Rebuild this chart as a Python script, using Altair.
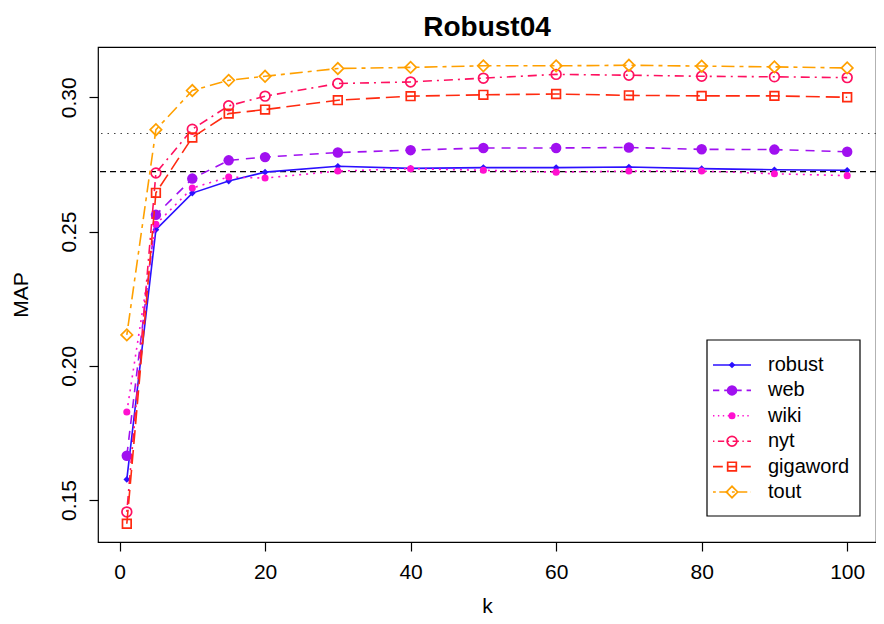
import altair as alt
import pandas as pd

# ---- data ----
k = [1, 5, 10, 15, 20, 30, 40, 50, 60, 70, 80, 90, 100]
series = ["robust", "web", "wiki", "nyt", "gigaword", "tout"]
robust = [0.1577, 0.2507, 0.2643, 0.2688, 0.2721, 0.2743, 0.2735, 0.2738, 0.2738, 0.2740, 0.2734, 0.2730, 0.2728]
web = [0.1665, 0.2562, 0.2697, 0.2765, 0.2777, 0.2794, 0.2803, 0.2811, 0.2811, 0.2813, 0.2806, 0.2805, 0.2797]
wiki = [0.1828, 0.2527, 0.2662, 0.2703, 0.2699, 0.2725, 0.2734, 0.2728, 0.2721, 0.2725, 0.2725, 0.2715, 0.2708]
nyt = [0.1456, 0.2718, 0.2881, 0.2968, 0.3004, 0.3051, 0.3057, 0.3071, 0.3085, 0.3082, 0.3078, 0.3076, 0.3073]
gigaword = [0.1412, 0.2644, 0.2850, 0.2939, 0.2954, 0.2989, 0.3004, 0.3009, 0.3012, 0.3007, 0.3005, 0.3005, 0.3000]
tout = [0.2115, 0.2879, 0.3025, 0.3063, 0.3078, 0.3107, 0.3111, 0.3117, 0.3117, 0.3119, 0.3116, 0.3113, 0.3109]
ref_dashed = 0.2723
ref_dotted = 0.2865
x_ticks = [0, 20, 40, 60, 80, 100]
y_ticks = [0.15, 0.20, 0.25, 0.30]

# ---- styles ----
colors = {"robust": "#2B10FF", "web": "#A010F0", "wiki": "#FF10D0",
          "nyt": "#FF1060", "gigaword": "#FF2A10", "tout": "#FFA000"}
dashes = {"robust": None, "web": [9, 7], "wiki": [2, 5], "nyt": [2, 5, 9, 5],
          "gigaword": [14, 6], "tout": [4, 5, 13, 5]}
shapes = {"robust": "diamond", "web": "circle", "wiki": "circle",
          "nyt": "circle", "gigaword": "square", "tout": "diamond"}
sizes = {"robust": 45, "web": 110, "wiki": 50, "nyt": 95, "gigaword": 75, "tout": 130}
filled = {"robust": True, "web": True, "wiki": True, "nyt": False, "gigaword": False, "tout": False}

FONT = "Liberation Sans"
W, H = 778, 495

vals = {"robust": robust, "web": web, "wiki": wiki, "nyt": nyt, "gigaword": gigaword, "tout": tout}
rows = []
for s in series:
    for kk, v in zip(k, vals[s]):
        rows.append({"series": s, "k": kk, "MAP": v})
df = pd.DataFrame(rows)

xs = alt.Scale(domain=[-2.96, 103.96], nice=False, zero=False)
ys = alt.Scale(domain=[0.1344, 0.3187], nice=False, zero=False)
xaxis = alt.Axis(values=x_ticks, title="k", titleX=W / 2, titleY=64,
                 titleBaseline="middle", titleAlign="center")
yaxis = alt.Axis(values=y_ticks, format=".2f", title="MAP", labelAngle=-90,
                 labelAlign="center", labelBaseline="bottom",
                 titleX=-77, titleY=H / 2, titleAngle=-90,
                 titleAlign="center", titleBaseline="middle")

X = alt.X("k:Q", scale=xs, axis=xaxis, title="k")
Y = alt.Y("MAP:Q", scale=ys, axis=yaxis, title="MAP")

main_layers = []
refdf = pd.DataFrame({"MAP": [ref_dashed, ref_dotted], "kind": ["dashed", "dotted"]})
main_layers.append(
    alt.Chart(refdf).transform_filter(alt.datum.kind == "dashed")
    .mark_rule(color="black", strokeWidth=1.2, strokeDash=[6, 4]).encode(y=Y)
)
main_layers.append(
    alt.Chart(refdf).transform_filter(alt.datum.kind == "dotted")
    .mark_rule(color="#444444", strokeWidth=1.2, strokeDash=[1.5, 5]).encode(y=Y)
)

for s in series:
    d = df[df.series == s]
    lk = dict(color=colors[s], strokeWidth=1.6)
    if dashes[s]:
        lk["strokeDash"] = dashes[s]
    main_layers.append(alt.Chart(d).mark_line(**lk).encode(x=X, y=Y))
    pk = dict(shape=shapes[s], size=sizes[s], filled=filled[s], color=colors[s],
              opacity=1, strokeWidth=1.7)
    main_layers.append(alt.Chart(d).mark_point(**pk).encode(x=X, y=Y))

main = alt.layer(*main_layers)

# ---- legend ----
leg_y = alt.Y("series:N", scale=alt.Scale(type="point", domain=series, range=[318, 445], padding=0),
              axis=None)
legdf = pd.DataFrame({"series": series})
leg_layers = [
    alt.Chart(legdf).transform_filter(alt.datum.series == "robust").mark_rect(
        fill="white", stroke="black", strokeWidth=1.2
    ).encode(x=alt.value(609), x2=alt.value(762), y=alt.value(293), y2=alt.value(469))
]
for s in series:
    d = legdf[legdf.series == s]
    rk = dict(color=colors[s], strokeWidth=1.6)
    if dashes[s]:
        rk["strokeDash"] = [max(1, v * 0.7) for v in dashes[s]]
    leg_layers.append(alt.Chart(d).mark_rule(**rk).encode(x=alt.value(615), x2=alt.value(653), y=leg_y))
    leg_layers.append(alt.Chart(d).mark_point(shape=shapes[s], size=sizes[s], filled=filled[s],
                                              color=colors[s], opacity=1, strokeWidth=1.7)
                      .encode(x=alt.value(634), y=leg_y))
    leg_layers.append(alt.Chart(d).mark_text(align="left", baseline="middle", fontSize=20,
                                             font=FONT, color="black")
                      .encode(x=alt.value(670), y=leg_y, text="series:N"))
legend = alt.layer(*leg_layers)

chart = (
    alt.layer(main, legend)
    .resolve_scale(y="independent", x="independent")
    .properties(
        width=W, height=H,
        title=alt.Title("Robust04", font=FONT, fontSize=28, fontWeight="bold",
                        anchor="middle", offset=5, color="black"),
        autosize=alt.AutoSizeParams(type="none"),
        padding={"left": 90, "top": 39, "right": 0, "bottom": 76},
    )
    .configure_view(stroke="black", strokeWidth=1.2)
    .configure_axis(domain=False, grid=False, tickColor="black", tickSize=9, tickWidth=1.2,
                    labelFont=FONT, labelFontSize=21, labelColor="black", labelPadding=10,
                    titleFont=FONT, titleFontSize=21, titleColor="black", titleFontWeight="normal")
)

chart.save("out.html", embed_options={"renderer": "svg", "actions": False})
